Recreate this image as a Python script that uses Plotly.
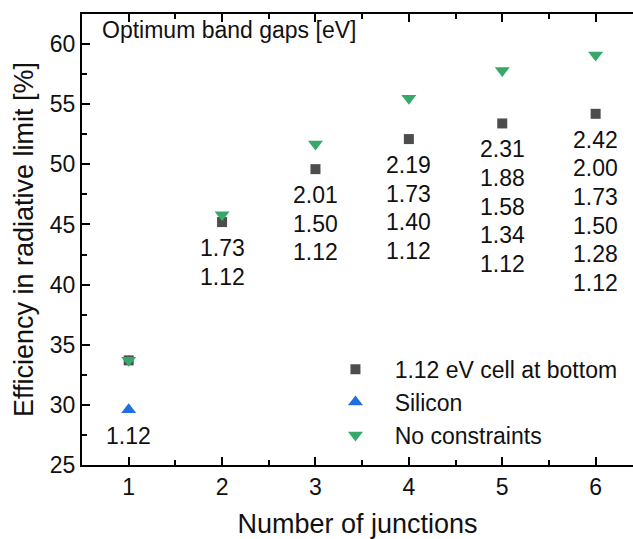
import plotly.graph_objects as go

junctions = [1, 2, 3, 4, 5, 6]
eff_bottom = [33.7, 45.2, 49.6, 52.1, 53.4, 54.2]
eff_free = [33.7, 45.8, 51.7, 55.5, 57.8, 59.1]
si_x = [1]
si_eff = [29.6]
gap_labels = [
    ["1.12"],
    ["1.73", "1.12"],
    ["2.01", "1.50", "1.12"],
    ["2.19", "1.73", "1.40", "1.12"],
    ["2.31", "1.88", "1.58", "1.34", "1.12"],
    ["2.42", "2.00", "1.73", "1.50", "1.28", "1.12"],
]

FONT = "Liberation Sans, Arial, sans-serif"
GRAY = "#4d4d4d"
BLUE = "#1f6fe0"
GREEN = "#36a96a"
NB = "\u00a0\u00a0\u00a0"

fig = go.Figure()
fig.add_trace(go.Scatter(x=junctions, y=eff_bottom, mode="markers", name=NB + "1.12 eV cell at bottom",
                         marker=dict(symbol="square", size=10, color=GRAY)))
fig.add_trace(go.Scatter(x=si_x, y=si_eff, mode="markers", name=NB + "Silicon",
                         marker=dict(symbol="triangle-up", size=13, color=BLUE)))
fig.add_trace(go.Scatter(x=junctions, y=eff_free, mode="markers", name=NB + "No constraints",
                         marker=dict(symbol="triangle-down", size=13, color=GREEN)))

for i, labels in enumerate(gap_labels):
    n = junctions[i]
    anchor = si_eff[0] if n == 1 else eff_bottom[i]
    for j, lab in enumerate(labels):
        fig.add_annotation(x=n, y=anchor, text=lab, showarrow=False,
                           yshift=-(26 + 28.6 * j), xanchor="center", yanchor="middle",
                           font=dict(family=FONT, size=23, color="#111"))

fig.add_annotation(xref="paper", yref="paper", x=0.032, y=0.965, xanchor="left", yanchor="middle",
                   text="Optimum band gaps [eV]", showarrow=False,
                   font=dict(family=FONT, size=23, color="#111"))

axis_common = dict(showline=True, linewidth=2, linecolor="black", ticks="inside",
                   ticklen=8, tickwidth=2, tickcolor="black", showgrid=False, zeroline=False,
                   tickfont=dict(family=FONT, size=23, color="#111"))

fig.update_xaxes(range=[0.5, 6.4], dtick=1, tick0=1, mirror="ticks",
                 minor=dict(dtick=0.5, tick0=0.5, ticks="inside", ticklen=5, tickwidth=2, tickcolor="black"),
                 title=dict(text="Number of junctions", font=dict(family=FONT, size=27, color="#111"), standoff=16),
                 **axis_common)
fig.update_yaxes(range=[25, 62.5], dtick=5, tick0=25, mirror=False,
                 minor=dict(dtick=2.5, tick0=25, ticks="inside", ticklen=5, tickwidth=2, tickcolor="black"),
                 title=dict(text="Efficiency in radiative limit [%]", font=dict(family=FONT, size=27, color="#111"), standoff=8),
                 **axis_common)

fig.update_layout(
    width=633, height=539,
    margin=dict(l=82, r=0, t=14, b=74, autoexpand=False),
    plot_bgcolor="white", paper_bgcolor="white",
    showlegend=True,
    legend=dict(x=0.46, y=0.26, xanchor="left", yanchor="top", bgcolor="rgba(0,0,0,0)",
                font=dict(family=FONT, size=23, color="#111"), tracegroupgap=0),
)

fig.write_html("out.html")
